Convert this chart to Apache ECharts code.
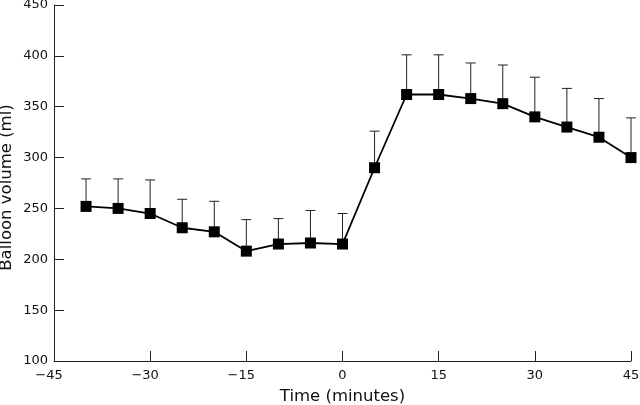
<!DOCTYPE html>
<html>
<head>
<meta charset="utf-8">
<script src="https://cdn.jsdelivr.net/npm/echarts@6/dist/echarts.min.js"></script>
<style>html,body{margin:0;padding:0;background:#fff;}#c{width:640px;height:405px;}</style>
</head>
<body>
<div id="c"></div>
<script>
var times = [-40, -35, -30, -25, -20, -15, -10, -5, 0, 5, 10, 15, 20, 25, 30, 35, 40, 45];
var meanVolume = [252, 250, 245, 231, 227, 208, 215, 216, 215, 290, 362, 362, 358, 353, 340, 330, 320, 300];
var upperVolume = [279, 279, 278, 259, 257, 239, 240, 248, 245, 326, 401, 401, 393, 391, 379, 368, 358, 339];
var xTicks = [-45, -30, -15, 0, 15, 30, 45];
var yTicks = [100, 150, 200, 250, 300, 350, 400, 450];

var FONT = 'DejaVu Sans';
var chart = echarts.init(document.getElementById('c'), null, {renderer: 'canvas'});

var lineData = times.map(function (t, i) { return [t, meanVolume[i]]; });
var errData = times.map(function (t, i) { return [t, meanVolume[i], upperVolume[i]]; });

chart.setOption({
  animation: false,
  backgroundColor: '#fff',
  grid: {left: 54, right: 9, top: 5, bottom: 44, containLabel: false, outerBoundsMode: 'none'},
  xAxis: {
    type: 'value',
    min: xTicks[0], max: xTicks[xTicks.length - 1], interval: 15,
    name: 'Time (minutes)',
    nameLocation: 'middle',
    nameGap: 27,
    nameMoveOverlap: false,
    nameTextStyle: {fontFamily: FONT, fontSize: 16.5, color: '#111'},
    axisLine: {show: true, onZero: false, lineStyle: {color: '#222', width: 1}},
    axisTick: {show: true, inside: true, length: 10, lineStyle: {color: '#222', width: 1}},
    splitLine: {show: false},
    axisLabel: {
      margin: 8,
      fontFamily: FONT, fontSize: 13, color: '#111',
      formatter: function (v) {
        return v < 0 ? '{n|\u2212' + (-v) + '}' : '{p|' + v + '}';
      },
      rich: {
        n: {fontFamily: FONT, fontSize: 13, color: '#111', padding: [0, 10, 0, 0]},
        p: {fontFamily: FONT, fontSize: 13, color: '#111'}
      }
    }
  },
  yAxis: {
    type: 'value',
    min: yTicks[0], max: yTicks[yTicks.length - 1], interval: 50,
    name: 'Balloon volume (ml)',
    nameLocation: 'middle',
    nameGap: 39,
    nameMoveOverlap: false,
    nameTextStyle: {fontFamily: FONT, fontSize: 16.5, color: '#111', padding: [0, 9, 0, 0]},
    axisLine: {show: true, onZero: false, lineStyle: {color: '#222', width: 1}},
    axisTick: {show: true, inside: true, length: 10, lineStyle: {color: '#222', width: 1}},
    splitLine: {show: false},
    axisLabel: {margin: 6, fontFamily: FONT, fontSize: 13, color: '#111'}
  },
  series: [
    {
      type: 'custom',
      data: errData,
      z: 1,
      renderItem: function (params, api) {
        var x = api.value(0);
        var p0 = api.coord([x, api.value(1)]);
        var p1 = api.coord([x, api.value(2)]);
        var style = {stroke: '#222', lineWidth: 1};
        return {
          type: 'group',
          children: [
            {type: 'line', shape: {x1: p0[0], y1: p0[1], x2: p1[0], y2: p1[1]}, style: style},
            {type: 'line', shape: {x1: p1[0] - 5, y1: p1[1], x2: p1[0] + 5, y2: p1[1]}, style: style}
          ]
        };
      }
    },
    {
      type: 'line',
      data: lineData,
      z: 2,
      symbol: 'rect',
      symbolSize: 11,
      itemStyle: {color: '#000'},
      lineStyle: {color: '#000', width: 1.8}
    }
  ]
});
</script>
</body>
</html>
